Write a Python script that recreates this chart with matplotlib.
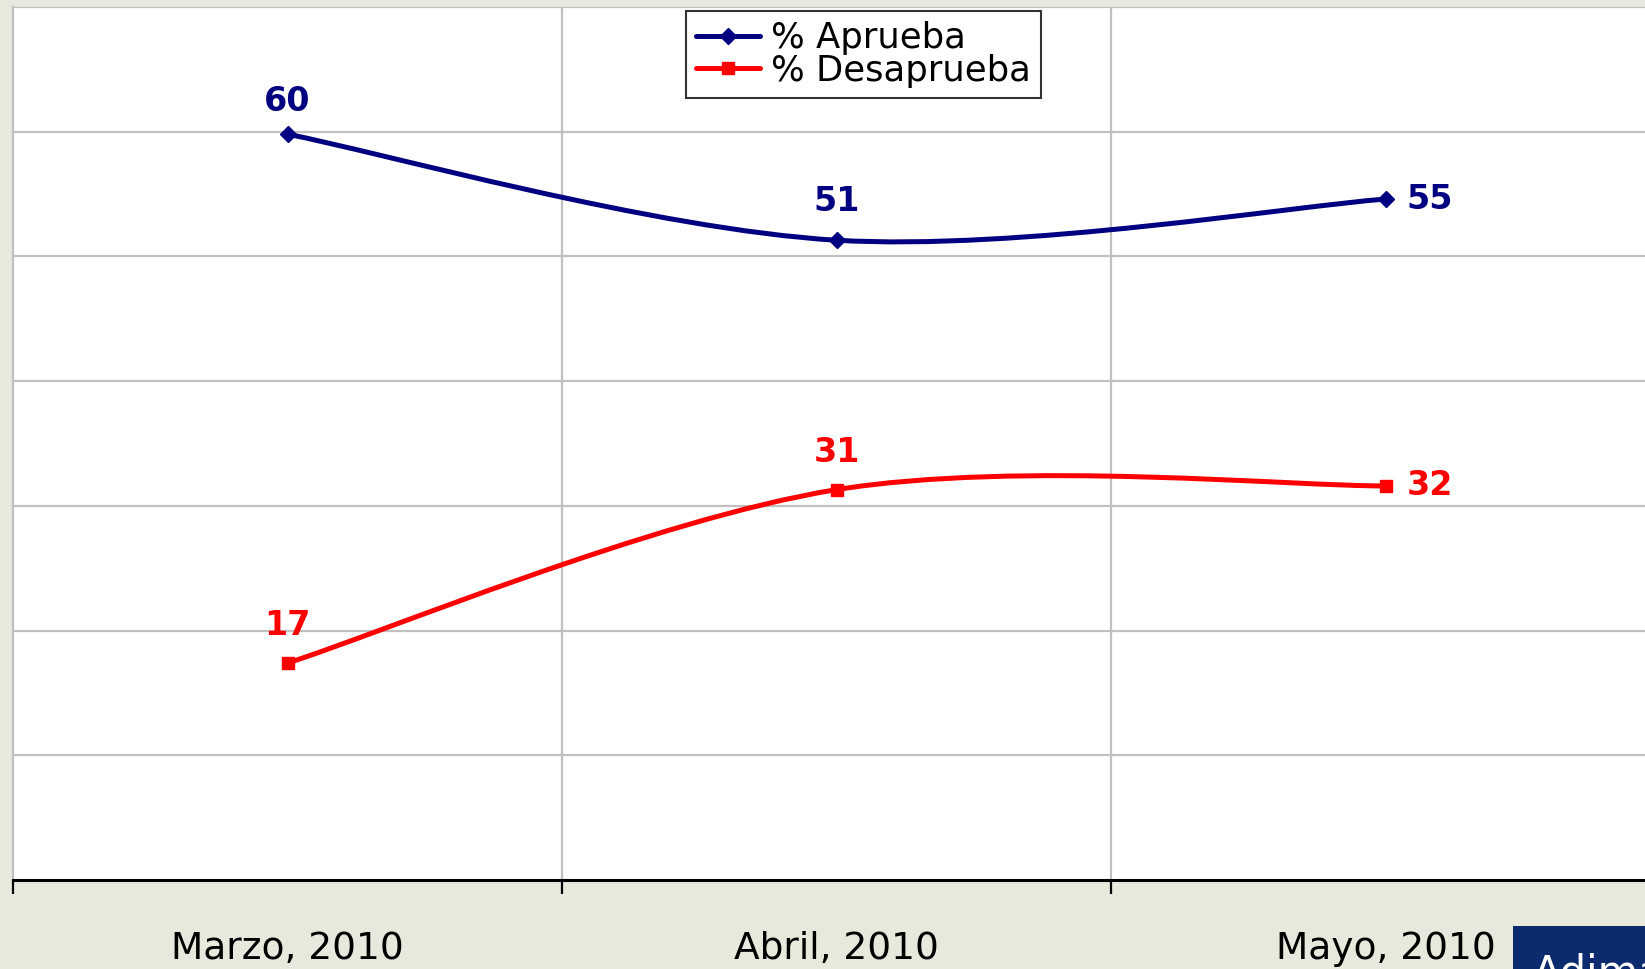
import matplotlib.pyplot as plt
from matplotlib.path import Path
from matplotlib.patches import PathPatch, Rectangle
from matplotlib.lines import Line2D

months = ["Marzo, 2010", "Abril, 2010", "Mayo, 2010"]
aprueba = [59.8, 51.3, 54.6]
desaprueba = [17.4, 31.3, 31.6]
series_names = ["% Aprueba", "% Desaprueba"]

BG = "#E9E8DD"
NAVY = "#000080"
RED = "#FF0000"


def smooth_path(xs, ys):
    # excel-style smoothed line: cubic bezier through every point
    pts = list(zip(xs, ys))
    n = len(pts)
    verts = [pts[0]]
    codes = [Path.MOVETO]
    for i in range(n - 1):
        p0 = pts[max(i - 1, 0)]
        p1 = pts[i]
        p2 = pts[i + 1]
        p3 = pts[min(i + 2, n - 1)]
        c1 = (p1[0] + (p2[0] - p0[0]) / 6, p1[1] + (p2[1] - p0[1]) / 6)
        c2 = (p2[0] - (p3[0] - p1[0]) / 6, p2[1] - (p3[1] - p1[1]) / 6)
        verts += [c1, c2, p2]
        codes += [Path.CURVE4] * 3
    return Path(verts, codes)


fig = plt.figure(figsize=(16.45, 9.69), dpi=100, facecolor=BG)
ax = fig.add_axes([13 / 1645, 89 / 969, 1647 / 1645, 873 / 969])
ax.set_facecolor("white")

x = [i + 0.5 for i in range(len(months))]
ax.set_xlim(0, 3)
ax.set_ylim(0, 70)

# grid
for yv in range(10, 71, 10):
    ax.axhline(yv, color="#C0C0C0", lw=1.6, zorder=1)
for xv in [1, 2]:
    ax.axvline(xv, color="#C0C0C0", lw=1.6, zorder=1)

for name, vals, col, mk, ms in [
    (series_names[0], aprueba, NAVY, "D", 8),
    (series_names[1], desaprueba, RED, "s", 9),
]:
    ax.add_patch(PathPatch(smooth_path(x, vals), fill=False, edgecolor=col,
                           lw=3.6, capstyle="round", joinstyle="round", zorder=3))
    ax.plot(x, vals, linestyle="none", marker=mk, ms=ms, color=col, zorder=4)

# data labels
lab_kw = dict(fontsize=24, fontweight="bold", zorder=5)
for i, (va, vd) in enumerate(zip(aprueba, desaprueba)):
    if i < 2:
        ax.annotate(f"{va:.0f}", (x[i], va), xytext=(0, 12 if i == 0 else 16),
                    textcoords="offset points",
                    ha="center", va="bottom", color=NAVY, **lab_kw)
        ax.annotate(f"{vd:.0f}", (x[i], vd), xytext=(0, 15), textcoords="offset points",
                    ha="center", va="bottom", color=RED, **lab_kw)
    else:
        ax.annotate(f"{va:.0f}", (x[i], va), xytext=(15, 0), textcoords="offset points",
                    ha="left", va="center", color=NAVY, **lab_kw)
        ax.annotate(f"{vd:.0f}", (x[i], vd), xytext=(15, 0), textcoords="offset points",
                    ha="left", va="center", color=RED, **lab_kw)

# axes look
for s in ["top", "right"]:
    ax.spines[s].set_visible(False)
ax.spines["left"].set_color("#C0C0C0")
ax.spines["left"].set_linewidth(1.6)
ax.spines["bottom"].set_color("black")
ax.spines["bottom"].set_linewidth(2.2)
ax.set_yticks([])
ax.set_xticks([0, 1, 2, 3])
ax.set_xticklabels([])
ax.tick_params(axis="x", which="major", length=10, width=1.6, color="black")
ax.set_xticks(x, minor=True)
ax.set_xticklabels(months, minor=True, fontsize=27)
ax.tick_params(axis="x", which="minor", length=0, pad=37)

handles = [
    Line2D([], [], color=NAVY, lw=3.6, marker="D", ms=8, solid_capstyle="round"),
    Line2D([], [], color=RED, lw=3.6, marker="s", ms=9, solid_capstyle="round"),
]
leg = fig.legend(handles, series_names, loc="center", bbox_to_anchor=(863.5 / 1645, 1 - 54.5 / 969),
                 fontsize=25.5, frameon=True, fancybox=False, edgecolor="black",
                 handlelength=1.8, handletextpad=0.3, labelspacing=-0.05, borderpad=0.3,
                 borderaxespad=0)
leg.get_frame().set_linewidth(1.5)
leg.set_zorder(10)

# logo corner
fig.patches.append(Rectangle((1513 / 1645, 0), 0.2, 43 / 969, transform=fig.transFigure,
                             facecolor="#0B2B6E", edgecolor="none", zorder=5))
fig.text(1533 / 1645, 17 / 969, "Adimark", color="white", fontsize=30,
         va="top", ha="left", zorder=6)

fig.savefig("out.png", dpi=100, facecolor=BG)
